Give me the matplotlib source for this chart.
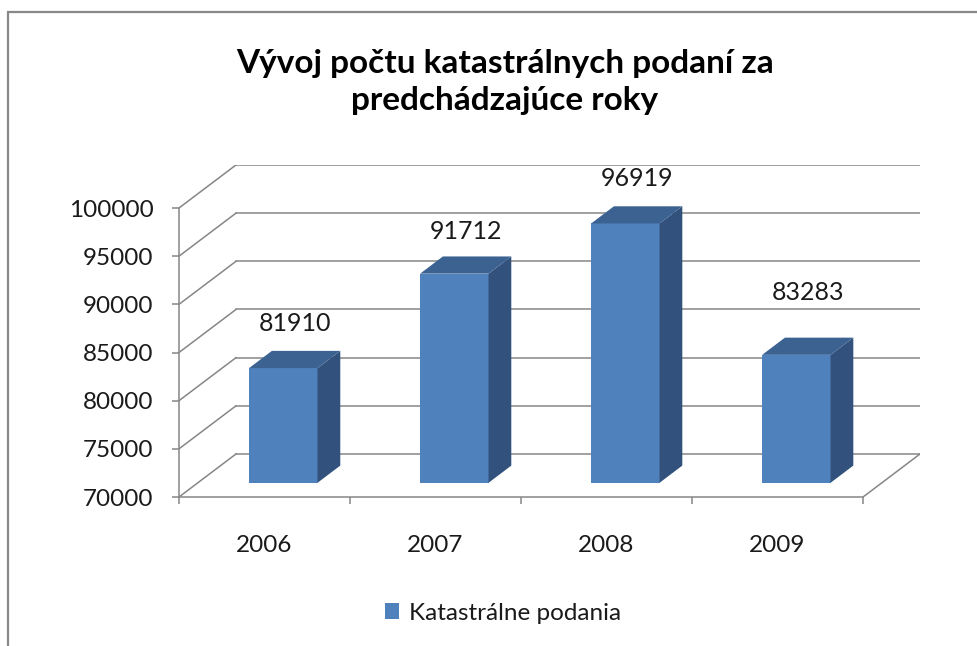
import matplotlib
matplotlib.use("Agg")
import matplotlib.pyplot as plt
from matplotlib.patches import Polygon, Rectangle

plt.rcParams['font.family'] = ['Lato', 'DejaVu Sans']

# dáta
roky = ['2006', '2007', '2008', '2009']
podania = [81910, 91712, 96919, 83283]
y_ticks = [70000, 75000, 80000, 85000, 90000, 95000, 100000]
nazov_serie = 'Katastrálne podania'
titulok = 'Vývoj počtu katastrálnych podaní za\npredchádzajúce roky'

# 3D efekt (hĺbka v dátových jednotkách)
DX = 0.333
DY = 4464
Z0, Z1 = 0.33, 0.73
SIRKA = 0.4
ymin, ymax = y_ticks[0], y_ticks[-1]
label_off = [27, 25, 28, 45]  # px nad stĺpcom

grid = '#868686'
c_front = '#4F81BD'
c_side = '#32527D'
c_top = '#3C6292'
txt = '#1a1a1a'

fig = plt.figure(figsize=(9.78, 6.46), dpi=100)
ax = fig.add_axes([179/978, (646-497)/646, (920-179)/978, (497-165)/646])
n = len(roky)
ax.set_xlim(0, n + DX)
ax.set_ylim(ymin, ymax + DY)
ax.patch.set_alpha(0)

# zadná a bočná stena
for v in y_ticks:
    ax.plot([DX, n + DX], [v + DY, v + DY], color=grid, lw=1.1, zorder=1)
    ax.plot([0, DX], [v, v + DY], color=grid, lw=1.1, zorder=1)
ax.plot([n, n + DX], [ymin, ymin + DY], color=grid, lw=1.1, zorder=1)

# stĺpce
dz = Z1 - Z0
x0 = [i + 0.5 - SIRKA/2 + Z0*DX for i in range(n)]
dno = ymin + Z0*DY
ax.bar(x0, [v - ymin for v in podania], bottom=dno, width=SIRKA, align='edge',
       color=c_front, label=nazov_serie, zorder=3)
for i, v in enumerate(podania):
    x = x0[i]
    top = v + Z0*DY
    side = [(x + SIRKA, dno), (x + SIRKA + dz*DX, dno + dz*DY),
            (x + SIRKA + dz*DX, top + dz*DY), (x + SIRKA, top)]
    strecha = [(x, top), (x + SIRKA, top), (x + SIRKA + dz*DX, top + dz*DY),
               (x + dz*DX, top + dz*DY)]
    ax.add_patch(Polygon(side, closed=True, facecolor=c_side, edgecolor='none', zorder=3))
    ax.add_patch(Polygon(strecha, closed=True, facecolor=c_top, edgecolor='none', zorder=3))
    ax.annotate(str(v), xy=(i + 0.5 + (Z0 + Z1)/2*DX, v + Z1*DY),
                xytext=(0, label_off[i]*0.72), textcoords='offset points',
                ha='center', va='center', fontsize=18, color=txt)

# osi
for s in ['top', 'right']:
    ax.spines[s].set_visible(False)
ax.spines['left'].set_bounds(ymin, ymax)
ax.spines['bottom'].set_bounds(0, n)
for s in ['left', 'bottom']:
    ax.spines[s].set_color(grid)
    ax.spines[s].set_linewidth(1.1)
ax.set_yticks(y_ticks)
ax.set_yticklabels([str(v) for v in y_ticks])
ax.tick_params(axis='y', length=5, width=1.1, color=grid, pad=13.5, labelsize=17.5, labelcolor=txt)
ax.set_xticks(range(n + 1))
ax.set_xticklabels([])
ax.set_xticks([i + 0.5 for i in range(n)], minor=True)
ax.set_xticklabels(roky, minor=True)
ax.tick_params(axis='x', which='major', length=5, width=1.1, color=grid)
ax.tick_params(axis='x', which='minor', length=0, pad=27, labelsize=17.5, labelcolor=txt)

# titulok a legenda
fig.text(505/978, 1 - 82/646, titulok, ha='center', va='center', fontsize=24,
         fontweight='bold', linespacing=1.3, color='black')
fig.legend(loc='center', bbox_to_anchor=(503/978, 1 - 613/646), frameon=False,
           fontsize=17.5, handlelength=0.6, handleheight=0.6, handletextpad=0.4,
           labelcolor=txt)

# rám grafu
fig.patches.append(Rectangle((8/978, -0.1), 1.2, 1.1 - 12/646, transform=fig.transFigure,
                             fill=False, edgecolor='#888888', lw=1.6))

fig.savefig('out.png', dpi=100)
